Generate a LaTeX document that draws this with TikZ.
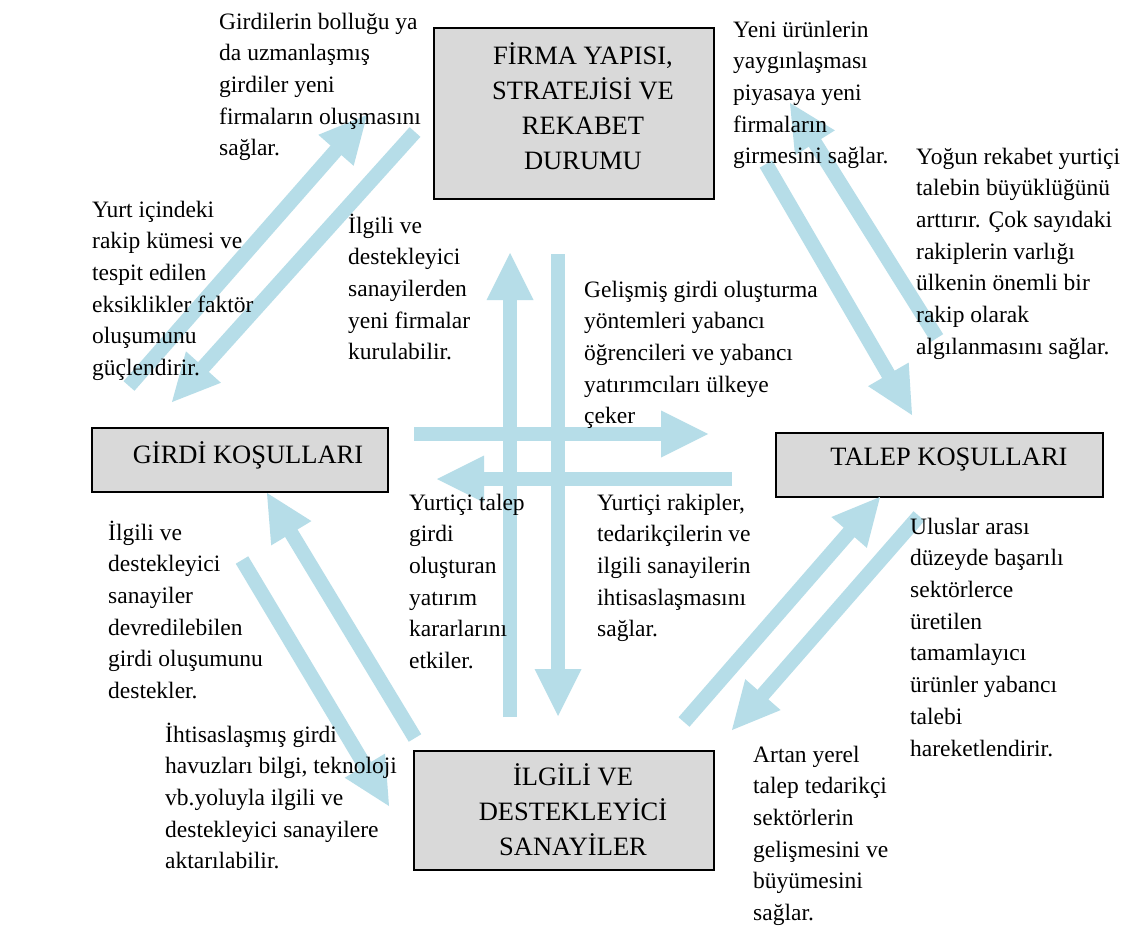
\documentclass[tikz,border=0pt]{standalone}
\usepackage{fontspec}
\setmainfont{Liberation Serif}
\usetikzlibrary{calc}
\definecolor{arrowblue}{HTML}{B6DDE8}
\definecolor{boxgray}{HTML}{D9D9D9}
\newcommand\bodyfont{\fontsize{23.5pt}{31.7pt}\selectfont}
\newcommand\boxfont{\fontsize{26.5pt}{35pt}\selectfont}
% wide block arrow from #1 (tail) to #2 (tip)
\newcommand\fatarrow[2]{%
  \path ($(#2)!47pt!(#1)$) coordinate (hb);
  \fill[arrowblue] (#2) -- ($(hb)!23.5pt!90:(#2)$) -- ($(hb)!23.5pt!-90:(#2)$) -- cycle;
  \draw[arrowblue, line width=14.5pt] (#1) -- ($(#2)!44pt!(#1)$);}
\tikzset{
  factorbox/.style={draw=black, line width=2pt, fill=boxgray, inner sep=0pt},
  boxtext/.style={inner sep=0pt, align=center, font=\boxfont},
  note/.style={anchor=north west, inner sep=0pt, align=left, font=\bodyfont}
}
\begin{document}
\begin{tikzpicture}[x=1pt, y=-1pt]
\useasboundingbox (0,0) rectangle (1132,928);
\fill[white] (0,0) rectangle (1132,928);

% the four factor boxes
\node[factorbox, minimum width=280pt, minimum height=171pt] (firma) at (574,113.5) {};
\node[factorbox, minimum width=296pt, minimum height=64pt] (girdi) at (240,460) {};
\node[factorbox, minimum width=327pt, minimum height=64pt] (talep) at (939.5,465) {};
\node[factorbox, minimum width=300pt, minimum height=119pt] (ilgili) at (564,810.5) {};

% arrow end points
\coordinate (a1s) at (129,386);  \coordinate (a1e) at (367,115);
\coordinate (a2s) at (415,132);  \coordinate (a2e) at (172,402);
\coordinate (a3s) at (510,717);  \coordinate (a3e) at (510,253);
\coordinate (a4s) at (558,254);  \coordinate (a4e) at (558,716);
\coordinate (a5s) at (414,434);  \coordinate (a5e) at (708,434);
\coordinate (a6s) at (732,479);  \coordinate (a6e) at (437,479);
\coordinate (a7s) at (766,164);  \coordinate (a7e) at (912,415);
\coordinate (a8s) at (937,338);  \coordinate (a8e) at (790,103);
\coordinate (a9s) at (684,722);  \coordinate (a9e) at (880,497);
\coordinate (a10s) at (919,516); \coordinate (a10e) at (732,730);
\coordinate (a11s) at (415,738); \coordinate (a11e) at (267,493);
\coordinate (a12s) at (242,560); \coordinate (a12e) at (389,806);

\fatarrow{a1s}{a1e}
\fatarrow{a2s}{a2e}
\fatarrow{a3s}{a3e}
\fatarrow{a4s}{a4e}
\fatarrow{a5s}{a5e}
\fatarrow{a6s}{a6e}
\fatarrow{a7s}{a7e}
\fatarrow{a8s}{a8e}
\fatarrow{a9s}{a9e}
\fatarrow{a10s}{a10e}
\fatarrow{a11s}{a11e}
\fatarrow{a12s}{a12e}

% box titles
\node[boxtext] (firmaT) at (583,106) {FİRMA YAPISI,\\STRATEJİSİ VE\\REKABET\\DURUMU};
\node[boxtext] (girdiT) at (248,455) {GİRDİ KOŞULLARI};
\node[boxtext] (talepT) at (949,460) {TALEP KOŞULLARI};
\node[boxtext] (ilgiliT) at (573,810) {İLGİLİ VE\\DESTEKLEYİCİ\\SANAYİLER};

% explanatory notes
\node[note] (n1) at (219,6.8) {\strut Girdilerin bolluğu ya\\da uzmanlaşmış\\girdiler yeni\\firmaların oluşmasını\\sağlar.};
\node[note] (n2) at (92,194.8) {\strut Yurt içindeki\\rakip kümesi ve\\tespit edilen\\eksiklikler faktör\\oluşumunu\\güçlendirir.};
\node[note] (n3) at (348,210.8) {\strut İlgili ve\\destekleyici\\sanayilerden\\yeni firmalar\\kurulabilir.};
\node[note] (n4) at (733,14.8) {\strut Yeni ürünlerin\\yaygınlaşması\\piyasaya yeni\\firmaların\\girmesini sağlar.};
\node[note] (n5) at (916,141.8) {\strut Yoğun rekabet yurtiçi\\talebin büyüklüğünü\\arttırır. Çok sayıdaki\\rakiplerin varlığı\\ülkenin önemli bir\\rakip olarak\\algılanmasını sağlar.};
\node[note] (n6) at (584,274.8) {\strut Gelişmiş girdi oluşturma\\yöntemleri yabancı\\öğrencileri ve yabancı\\yatırımcıları ülkeye\\çeker};
\node[note] (n7) at (409,487.8) {\strut Yurtiçi talep\\girdi\\oluşturan\\yatırım\\kararlarını\\etkiler.};
\node[note] (n8) at (597,487.8) {\strut Yurtiçi rakipler,\\tedarikçilerin ve\\ilgili sanayilerin\\ihtisaslaşmasını\\sağlar.};
\node[note] (n9) at (108,517.8) {\strut İlgili ve\\destekleyici\\sanayiler\\devredilebilen\\girdi oluşumunu\\destekler.};
\node[note] (n10) at (165,719.8) {\strut İhtisaslaşmış girdi\\havuzları bilgi, teknoloji\\vb.yoluyla ilgili ve\\destekleyici sanayilere\\aktarılabilir.};
\node[note] (n11) at (910,511.8) {\strut Uluslar arası\\düzeyde başarılı\\sektörlerce\\üretilen\\tamamlayıcı\\ürünler yabancı\\talebi\\hareketlendirir.};
\node[note] (n12) at (753,739.8) {\strut Artan yerel\\talep tedarikçi\\sektörlerin\\gelişmesini ve\\büyümesini\\sağlar.};
\end{tikzpicture}
\end{document}
